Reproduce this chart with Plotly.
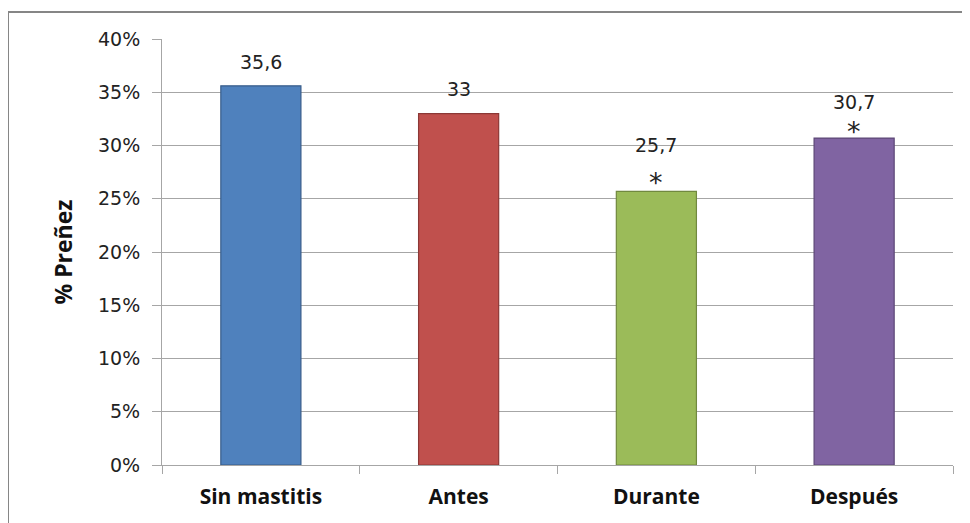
import plotly.graph_objects as go

categories = ["Sin mastitis", "Antes", "Durante", "Después"]
values = [35.6, 33, 25.7, 30.7]
value_labels = ["35,6", "33", "25,7", "30,7"]
marks = ["", "", "*", "*"]
colors = ["#4F81BD", "#C0504D", "#9BBB59", "#8064A2"]
outlines = ["#385D8A", "#8C3836", "#71893F", "#5C4776"]
y_ticks = [0, 5, 10, 15, 20, 25, 30, 35, 40]
y_ticklabels = [f"{t}%" for t in y_ticks]

fig = go.Figure()
fig.add_trace(go.Bar(
    x=categories, y=values,
    marker=dict(color=colors, line=dict(color=outlines, width=1.2)),
    width=0.405, hoverinfo="skip",
))

label_shift = [24, 25, 46, 36]
mark_shift = [0, 0, 9, 7]
ann = []
for c, v, lab, m, ls, ms in zip(categories, values, value_labels, marks, label_shift, mark_shift):
    ann.append(dict(x=c, y=v, xref="x", yref="y", text=lab, showarrow=False,
                    yanchor="middle", yshift=ls,
                    font=dict(family="DejaVu Sans", size=19, color="#222")))
    if m:
        ann.append(dict(x=c, y=v, xref="x", yref="y", text=m, showarrow=False,
                        yanchor="middle", yshift=ms,
                        font=dict(family="DejaVu Sans", size=27, color="#222")))

fig.update_layout(
    width=962, height=515,
    margin=dict(l=154, r=17, t=31, b=58),
    paper_bgcolor="white", plot_bgcolor="white",
    showlegend=False,
    annotations=ann,
    shapes=[dict(type="rect", xref="paper", yref="paper",
                 x0=-0.1947, x1=1.03, y0=-0.16, y1=1.0634,
                 line=dict(color="#868686", width=2), layer="below")],
    bargap=0.6,
)
fig.update_yaxes(
    range=[0, 40], tickvals=y_ticks, ticktext=y_ticklabels,
    showgrid=True, gridcolor="#A6A6A6", gridwidth=1,
    showline=True, linecolor="#A6A6A6", linewidth=1,
    ticks="outside", ticklen=9, tickcolor="#A6A6A6",
    tickfont=dict(family="DejaVu Sans", size=19, color="#222"),
    ticklabelstandoff=8,
    zeroline=False,
    title=dict(text="<b>% Preñez</b>", standoff=18,
               font=dict(family="Open Sans", size=23, color="#111")),
)
fig.update_xaxes(
    showline=True, linecolor="#A6A6A6", linewidth=1,
    ticks="outside", ticklen=8, tickcolor="#A6A6A6", tickson="boundaries",
    tickfont=dict(family="Open Sans", size=21, color="#111"),
    tickvals=categories, ticktext=[f"<b>{c}</b>" for c in categories],
    ticklabelstandoff=13,
    showgrid=False,
)

fig.write_html("out.html")
